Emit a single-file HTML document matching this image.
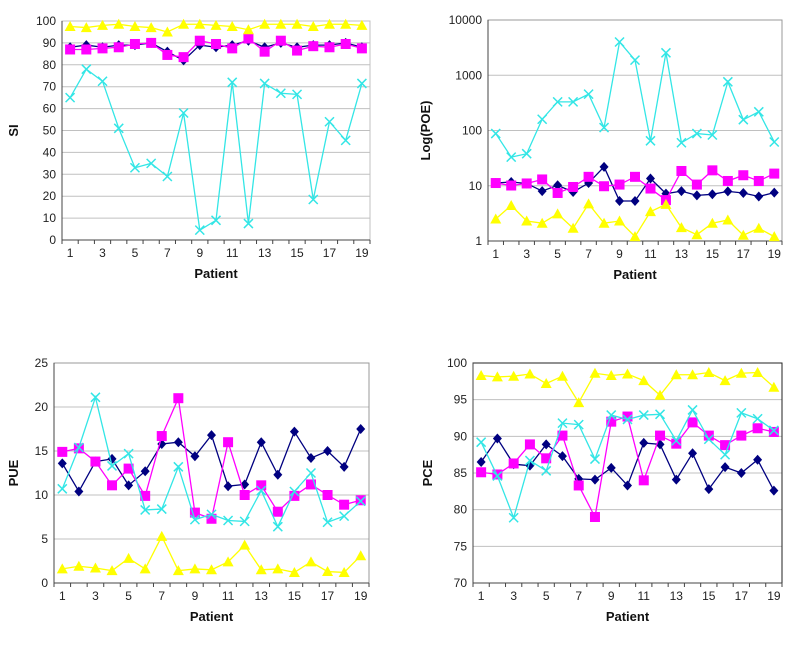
<!DOCTYPE html>
<html><head><meta charset="utf-8"><style>
body{margin:0;background:#fff;}
svg{display:block;font-family:"Liberation Sans",Arial,sans-serif;}
</style></head><body>
<svg id="s" width="800" height="647" viewBox="0 0 800 647"></svg>
<script>
const patients=[1,2,3,4,5,6,7,8,9,10,11,12,13,14,15,16,17,18,19];
const siNavy=[88,89,88,89,89,90,86,82,89,88,89,91,88,90,88,89,89,90,88];
const siMagenta=[87,87,87.5,88,89.5,90,84.5,83.5,91,89.5,87.5,92,86,91,86.5,88.5,88,89.5,87.5];
const siYellow=[97.5,97,98,98.5,97.5,97,95,98.5,98.5,98,97.5,96,98.5,98.5,98.5,97.5,98.5,98.5,98];
const siCyan=[65,78,72.5,51,33,35,29,58,4.5,9,72,7.5,71.5,67,66.5,18.5,54,45.5,71.5];
const poeNavy=[11.2,11.7,11,8,10.2,7.7,11.2,22,5.3,5.3,13.5,7.2,8,6.7,7,7.9,7.4,6.4,7.5];
const poeMagenta=[11.2,10.1,11,13,7.4,9.5,14.5,9.8,10.5,14.5,8.9,5.5,18.5,10.5,19,12.2,15.5,12.2,16.6];
const poeYellow=[2.5,4.4,2.3,2.1,3.1,1.7,4.7,2.1,2.3,1.2,3.4,4.6,1.75,1.3,2.1,2.4,1.27,1.7,1.2];
const poeCyan=[88,33,38,160,330,330,455,113,4000,1880,65,2550,60,88,83,760,157,218,62];
const pueNavy=[13.6,10.4,13.8,14.1,11.1,12.7,15.8,16,14.4,16.8,11,11.2,16,12.3,17.2,14.2,15,13.2,17.5];
const pueMagenta=[14.9,15.3,13.8,11.1,13,9.9,16.7,21,8,7.3,16,10,11.1,8.1,9.9,11.2,10,8.9,9.4];
const pueYellow=[1.6,1.9,1.7,1.4,2.8,1.6,5.3,1.4,1.6,1.5,2.4,4.3,1.5,1.6,1.2,2.4,1.3,1.2,3.1];
const pueCyan=[10.7,15.4,21.1,13.3,14.7,8.3,8.4,13.2,7.2,7.8,7.1,7,10.5,6.4,10.4,12.5,6.9,7.6,9.3];
const pceNavy=[86.5,89.7,86.2,86,88.9,87.3,84.2,84.1,85.7,83.3,89.1,88.9,84.1,87.7,82.8,85.8,85,86.8,82.6];
const pceMagenta=[85.1,84.8,86.3,88.9,87,90.1,83.3,79,92,92.7,84,90.1,89,91.9,90.1,88.8,90.1,91.1,90.6];
const pceYellow=[98.3,98.1,98.2,98.5,97.2,98.2,94.6,98.6,98.3,98.5,97.6,95.6,98.4,98.4,98.7,97.6,98.6,98.7,96.7];
const pceCyan=[89.2,84.6,78.9,86.7,85.3,91.8,91.6,86.9,92.9,92.3,92.9,93,89.4,93.6,89.6,87.5,93.2,92.4,90.8];
const siTicks=[0,10,20,30,40,50,60,70,80,90,100];
const poeTicks=[1,10,100,1000,10000];
const pueTicks=[0,5,10,15,20,25];
const pceTicks=[70,75,80,85,90,95,100];
const xTicks=[1,3,5,7,9,11,13,15,17,19];

const NS="http://www.w3.org/2000/svg";
const svg=document.getElementById('s');
function el(tag,attrs,parent,txt){const e=document.createElementNS(NS,tag);for(const k in attrs)e.setAttribute(k,attrs[k]);if(txt!==undefined)e.textContent=txt;(parent||svg).appendChild(e);return e;}

function chart(cfg){
  const g=el('g',{});
  
  
  const {L,R,T,B,min,max,log}=cfg;
  const n=patients.length, step=(R-L)/n;
  const xs=i=>L+step*(i+0.5);
  const ys=v=>log? B-(Math.log10(v)-Math.log10(min))/(Math.log10(max)-Math.log10(min))*(B-T) : B-(v-min)/(max-min)*(B-T);
  cfg.ticks.forEach(t=>{
    const y=ys(t);
    const gl=el('line',{x1:L,x2:R,y1:y,y2:y,stroke:'#c0c0c0','stroke-width':1},g);
    
    
    const tl=el('text',{x:L-6,y:y+4,'text-anchor':'end','font-size':12,fill:'#222'},g,String(t));
    
    
  });
  const fr=el('rect',{x:L,y:T,width:R-L,height:B-T,fill:'none',stroke:cfg.frame,'stroke-width':1},g);
  
  
  el('line',{x1:L,x2:L,y1:T,y2:B,stroke:'#444'},g);
  el('line',{x1:L,x2:R,y1:B,y2:B,stroke:'#444'},g);
  for(let i=0;i<=n;i++){const x=L+step*i;el('line',{x1:x,x2:x,y1:B,y2:B+4,stroke:'#444'},g);}
  xTicks.forEach(t=>{
    const tl=el('text',{x:xs(t-1),y:B+17,'text-anchor':'middle','font-size':12,fill:'#222'},g,String(t));
    
    
  });
  const xt=el('text',{x:(L+R)/2,y:B+38,'text-anchor':'middle','font-size':13,'font-weight':'bold',fill:'#111'},g,'Patient');
  
  
  const yt=el('text',{x:cfg.ytx,y:(T+B)/2,'text-anchor':'middle','font-size':13,'font-weight':'bold',fill:'#111',transform:`rotate(-90 ${cfg.ytx} ${(T+B)/2})`},g,cfg.ytitle);
  
  
  const series=[[cfg.d[0],'#000080','diamond'],[cfg.d[1],'#ff00ff','square'],[cfg.d[2],'#ffff00','triangle'],[cfg.d[3],'#33e6e6','cross']];
  series.forEach(([data,col,m])=>{
    const sg=el('g',{},g);
    
    
    el('polyline',{points:data.map((v,i)=>xs(i)+','+ys(v)).join(' '),fill:'none',stroke:col,'stroke-width':1.3},sg);
    data.forEach((v,i)=>{
      const x=xs(i),y=ys(v);let p;
      if(m==='diamond')p=el('polygon',{points:`${x},${y-5} ${x+4.5},${y} ${x},${y+5} ${x-4.5},${y}`,fill:col},sg);
      else if(m==='square')p=el('rect',{x:x-5,y:y-5,width:10,height:10,fill:col},sg);
      else if(m==='triangle')p=el('polygon',{points:`${x},${y-5.5} ${x+5.5},${y+4.5} ${x-5.5},${y+4.5}`,fill:col},sg);
      else p=el('path',{d:`M${x-4.5},${y-4.5}L${x+4.5},${y+4.5}M${x+4.5},${y-4.5}L${x-4.5},${y+4.5}`,stroke:col,'stroke-width':1.5},sg);
      
      
    });
  });
}
chart({name:'si-chart',L:62,R:370,T:21,B:240,min:0,max:100,ticks:siTicks,ytitle:'SI',ytx:18,frame:'#c0c0c0',d:[siNavy,siMagenta,siYellow,siCyan]});
chart({name:'poe-chart',L:488,R:782,T:20,B:241,min:1,max:10000,log:true,ticks:poeTicks,ytitle:'Log(POE)',ytx:430,frame:'#999',d:[poeNavy,poeMagenta,poeYellow,poeCyan]});
chart({name:'pue-chart',L:54,R:369,T:363,B:583,min:0,max:25,ticks:pueTicks,ytitle:'PUE',ytx:18,frame:'#999',d:[pueNavy,pueMagenta,pueYellow,pueCyan]});
chart({name:'pce-chart',L:473,R:782,T:363,B:583,min:70,max:100,ticks:pceTicks,ytitle:'PCE',ytx:432,frame:'#222',d:[pceNavy,pceMagenta,pceYellow,pceCyan]});
</script>
</body></html>
